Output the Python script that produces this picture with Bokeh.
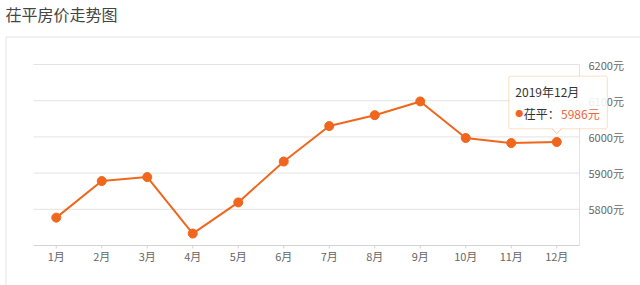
from bokeh.plotting import figure
from bokeh.models import Range1d, FixedTicker, Label, BoxAnnotation, PolyAnnotation, LinearAxis
from bokeh.embed import file_html
from bokeh.resources import INLINE

# ---- data ----
months = ["1月", "2月", "3月", "4月", "5月", "6月", "7月", "8月", "9月", "10月", "11月", "12月"]
prices = [5777, 5878, 5889, 5733, 5819, 5932, 6030, 6060, 6098, 5997, 5983, 5986]
y_ticks = [5800, 5900, 6000, 6100, 6200]
y_unit = "元"
title_text = "茌平房价走势图"
tip_date = "2019年12月"
tip_city = "茌平"

LINE = "#f0661c"
TIP = "#f29447"
GRID = "#e3e3e3"
FONT = "Noto Sans CJK SC"

# ---- layout (canvas pixels); the frame covers the whole canvas ----
W, H = 640, 285
PL, PR, PT, PB = 33, 579, 64, 245   # plot area
y_lo, y_hi = 5700, 6200
n = len(months)
px_x = (PR - PL) / n
px_y = (PB - PT) / (y_hi - y_lo)

def X(px):   # canvas x -> data x (category index)
    return (px - PL) / px_x - 0.5

def Y(py):   # canvas y -> data y
    return y_hi - (py - PT) / px_y

idx = list(range(n))

p = figure(width=W, height=H, x_range=Range1d(X(0), X(W)), y_range=Range1d(Y(H), Y(0)),
           output_backend="svg", toolbar_location=None, x_axis_location=None,
           y_axis_location=None, min_border_left=0, min_border_right=0,
           min_border_top=0, min_border_bottom=0)
p.outline_line_color = None
p.background_fill_color = "white"
p.border_fill_color = "white"
p.grid.visible = False

# title
p.add_layout(Label(x=X(5), y=Y(13), text=title_text, text_font=FONT, text_font_size="16px",
                   text_color="#444444", text_baseline="middle"))

# container border of the chart card
p.segment(x0=X(5.5), x1=X(W + 5), y0=Y(36.5), y1=Y(36.5), line_color=GRID, line_width=1)
p.segment(x0=X(5.5), x1=X(5.5), y0=Y(36.5), y1=Y(H + 5), line_color=GRID, line_width=1)

# grid lines, plot edge and x-axis line
p.segment(x0=X(PL), x1=X(PR), y0=y_ticks, y1=y_ticks, line_color=GRID, line_width=1)
p.segment(x0=X(PR), x1=X(PR), y0=y_lo, y1=y_hi, line_color=GRID, line_width=1)
p.segment(x0=X(PL), x1=X(PR), y0=y_lo, y1=y_lo, line_color="#d3d3d3", line_width=1)
p.segment(x0=idx, x1=idx, y0=y_lo, y1=Y(PB + 3), line_color="#d3d3d3", line_width=1)

# x axis (labels only; placed by fixed_location)
xa = LinearAxis(ticker=FixedTicker(ticks=idx),
                major_label_overrides={i: m for i, m in zip(idx, months)},
                fixed_location=Y(PB + 22), major_label_standoff=-20,
                axis_line_color=None, major_tick_line_color=None, minor_tick_line_color=None,
                major_tick_out=0, major_tick_in=0,
                major_label_text_font=FONT, major_label_text_font_size="11px",
                major_label_text_color="#666666")
p.add_layout(xa, "below")

# y axis on the right (labels only; placed by fixed_location)
ya = LinearAxis(ticker=FixedTicker(ticks=y_ticks),
                major_label_overrides={t: f"{t}{y_unit}" for t in y_ticks},
                fixed_location=X(628), major_label_standoff=-40,
                axis_line_color=None, major_tick_line_color=None, minor_tick_line_color=None,
                major_tick_out=0, major_tick_in=0,
                major_label_text_font=FONT, major_label_text_font_size="11px",
                major_label_text_color="#666666")
p.add_layout(ya, "right")

# series
p.line(idx, prices, line_color=LINE, line_width=2)
p.scatter(idx, prices, size=9, fill_color=LINE, line_color=LINE)

# tooltip anchored at the last point
ax = idx[-1]
ay = prices[-1]

def tx(dpx):
    return ax + dpx / px_x

def ty(dpx):   # dpx = pixels above the point
    return ay + dpx / px_y

p.add_layout(BoxAnnotation(left=tx(-48), right=tx(50.6), top=ty(65.8), bottom=ty(13.2),
                           fill_color="white", fill_alpha=0.88, line_color=TIP,
                           line_width=1, border_radius=2, level="overlay"))
p.add_layout(PolyAnnotation(xs=[tx(-4.5), tx(0), tx(4.5)], ys=[ty(13.8), ty(8.2), ty(13.8)],
                            fill_color="white", fill_alpha=1, line_color=None, level="overlay"))
p.add_layout(PolyAnnotation(xs=[tx(-4.5), tx(0), tx(4.5), tx(0)],
                            ys=[ty(13.2), ty(8.2), ty(13.2), ty(8.2)],
                            fill_color=None, line_color=TIP, line_width=1, level="overlay"))

common = dict(x=ax, y=ay, text_font=FONT, text_baseline="middle", level="overlay")
p.add_layout(Label(text=tip_date, x_offset=-41.4, y_offset=50.8, text_font_size="12px",
                   text_color="#333333", **common))
p.add_layout(Label(text="●", x_offset=-41.5, y_offset=28.8, text_font_size="8px",
                   text_color=LINE, **common))
p.add_layout(Label(text=f"{tip_city}：", x_offset=-33, y_offset=28.8, text_font_size="12px",
                   text_color="#333333", **common))
p.add_layout(Label(text=f"{prices[-1]}{y_unit}", x_offset=4.3, y_offset=28.8,
                   text_font_size="12px", text_color="#f0643c", **common))

open("out.html", "w").write(file_html(p, INLINE))
